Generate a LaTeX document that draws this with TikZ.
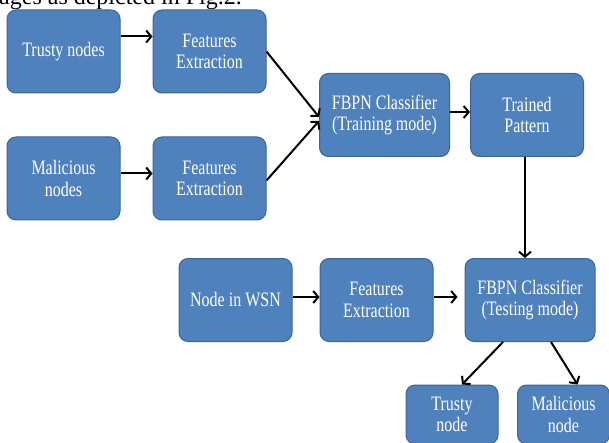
\documentclass[tikz,border=0pt]{standalone}
\usepackage{fontspec}
\setmainfont{Liberation Serif}
\newfontfamily\boxfont{Liberation Serif}[FakeStretch=0.78]
\usetikzlibrary{arrows.meta}

\definecolor{boxfill}{HTML}{4F81BD}
\definecolor{boxline}{HTML}{3B6698}

\tikzset{
  block/.style={draw=boxline, line width=1pt, fill=boxfill, rounded corners=9pt,
    text=white, align=center, inner sep=2pt,
    minimum width=113pt, minimum height=83pt,
    font=\boxfont\fontsize{20.5}{21.5}\selectfont},
  wide/.style={minimum width=130pt},
  small/.style={minimum width=92pt, minimum height=59pt},
  flow/.style={line width=2pt, -{Straight Barb[length=5pt,width=12pt,line width=2pt]}}
}

\begin{document}
\begin{tikzpicture}[x=1pt, y=-1pt]
  \useasboundingbox (0,0) rectangle (609,443);
  \clip (0,0) rectangle (609,443);
  % Cut-off caption line
  \node[anchor=base west, inner sep=0pt, font=\fontsize{24}{28}\selectfont] (caption) at (-1,5) {ages as depicted in Fig.2.};
  % Training stage
  \node[block] (trusty)  at (63.5,51.5)  {Trusty nodes};
  \node[block] (featA)   at (209.5,51.5) {Features\\Extraction};
  \node[block] (malic)   at (63.5,178.5) {Malicious\\nodes};
  \node[block] (featB)   at (209.5,178.5){Features\\Extraction};
  \node[block, wide] (train)   at (384.5,115) {FBPN Classifier\\(Training mode)};
  \node[block] (pattern) at (527,115)   {Trained\\Pattern};
  % Testing stage
  \node[block] (wsn)     at (235.5,300) {Node in WSN};
  \node[block] (featC)   at (376.5,300) {Features\\Extraction};
  \node[block, wide] (test) at (530,300) {FBPN Classifier\\(Testing mode)};
  \node[block, small] (outT) at (452,414.5) {Trusty\\node};
  \node[block, small] (outM) at (563.5,414.5) {Malicious\\node};
  % Arrows
  \draw[flow] ([yshift=15pt]trusty.east) -- ([yshift=15pt]featA.west);
  \draw[flow] ([yshift=5pt]malic.east) -- ([yshift=5pt]featB.west);
  \draw[flow] (featA.east) -- ([yshift=-2pt]train.west);
  \draw[flow] ([yshift=-2pt]featB.east) -- ([yshift=-6pt]train.west);
  \draw[flow] ([yshift=3pt]train.east) -- ([yshift=3pt]pattern.west);
  \draw[flow] ([xshift=-2pt]pattern.south) -- ([xshift=-5pt]test.north);
  \draw[flow] ([yshift=3pt]wsn.east) -- ([yshift=3pt]featC.west);
  \draw[flow] ([yshift=3pt]featC.east) -- ([xshift=-7pt,yshift=3pt]test.west);
  \draw[flow] ([xshift=-27pt]test.south) -- ([xshift=10pt]outT.north);
  \draw[flow] ([xshift=21pt]test.south) -- ([xshift=14pt]outM.north);
\end{tikzpicture}
\end{document}
